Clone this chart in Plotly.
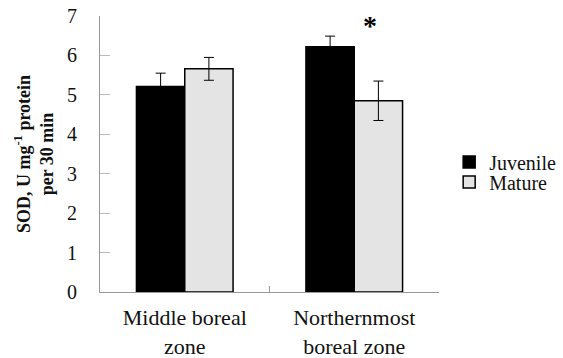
import plotly.graph_objects as go

categories = ["Middle boreal<br>zone", "Northernmost<br>boreal zone"]
juvenile = [5.21, 6.22]
juvenile_err = [0.34, 0.27]
mature = [5.66, 4.85]
mature_err = [0.29, 0.50]
y_ticks = [0, 1, 2, 3, 4, 5, 6, 7]

FONT = "'Liberation Serif', 'Times New Roman', Times, serif"

fig = go.Figure()
fig.add_trace(go.Bar(
    name="Juvenile", x=categories, y=juvenile, legend="legend",
    marker=dict(color="black", line=dict(color="black", width=1.5)),
    error_y=dict(type="data", array=juvenile_err, visible=True, color="black", thickness=1, width=5),
))
fig.add_trace(go.Bar(
    name="Mature", x=categories, y=mature, legend="legend2",
    marker=dict(color="#e4e4e4", line=dict(color="black", width=1.5)),
    error_y=dict(type="data", array=mature_err, visible=True, color="black", thickness=1, width=5),
))

fig.add_annotation(x=categories[1], y=6.75, text="<b>*</b>", showarrow=False,
                   xshift=16, yanchor="middle", font=dict(family=FONT, size=28, color="black"))

legend_style = dict(xanchor="left", yanchor="middle", itemwidth=30,
                    font=dict(family=FONT, size=20, color="#111"), bgcolor="rgba(0,0,0,0)")

fig.update_layout(
    width=563, height=358,
    margin=dict(l=100, r=124, t=16, b=66, autoexpand=False),
    paper_bgcolor="white", plot_bgcolor="white",
    barmode="group", bargap=0.43, bargroupgap=0,
    font=dict(family=FONT, size=18, color="#111"),
    showlegend=True,
    legend=dict(x=1.03, y=0.471, **legend_style),
    legend2=dict(x=1.03, y=0.399, **legend_style),
    xaxis=dict(showline=True, linecolor="#999", linewidth=1, automargin=False,
               ticks="inside", tickson="boundaries", ticklen=6, tickcolor="#999",
               ticklabelstandoff=6, ticklabeloverflow="allow",
               tickfont=dict(family=FONT, size=22, color="#111"), showgrid=False),
    yaxis=dict(range=[0, 7], tickvals=y_ticks, showline=True, linecolor="#999", linewidth=1,
               automargin=False, ticklabeloverflow="allow",
               ticks="inside", ticklen=10, tickcolor="#bbb", showgrid=False, zeroline=False,
               tickfont=dict(family=FONT, size=20, color="#111"), ticklabelstandoff=18,
               title=dict(text="<b>SOD, U mg<sup>-1</sup> protein<br>per 30 min</b>",
                          font=dict(family=FONT, size=18, color="#111"), standoff=8)),
)

# remove the browser's default 8px body margin so the figure fills the window
fig.write_html("out.html", config={"displayModeBar": False},
               post_script="document.body.style.margin='0';")
